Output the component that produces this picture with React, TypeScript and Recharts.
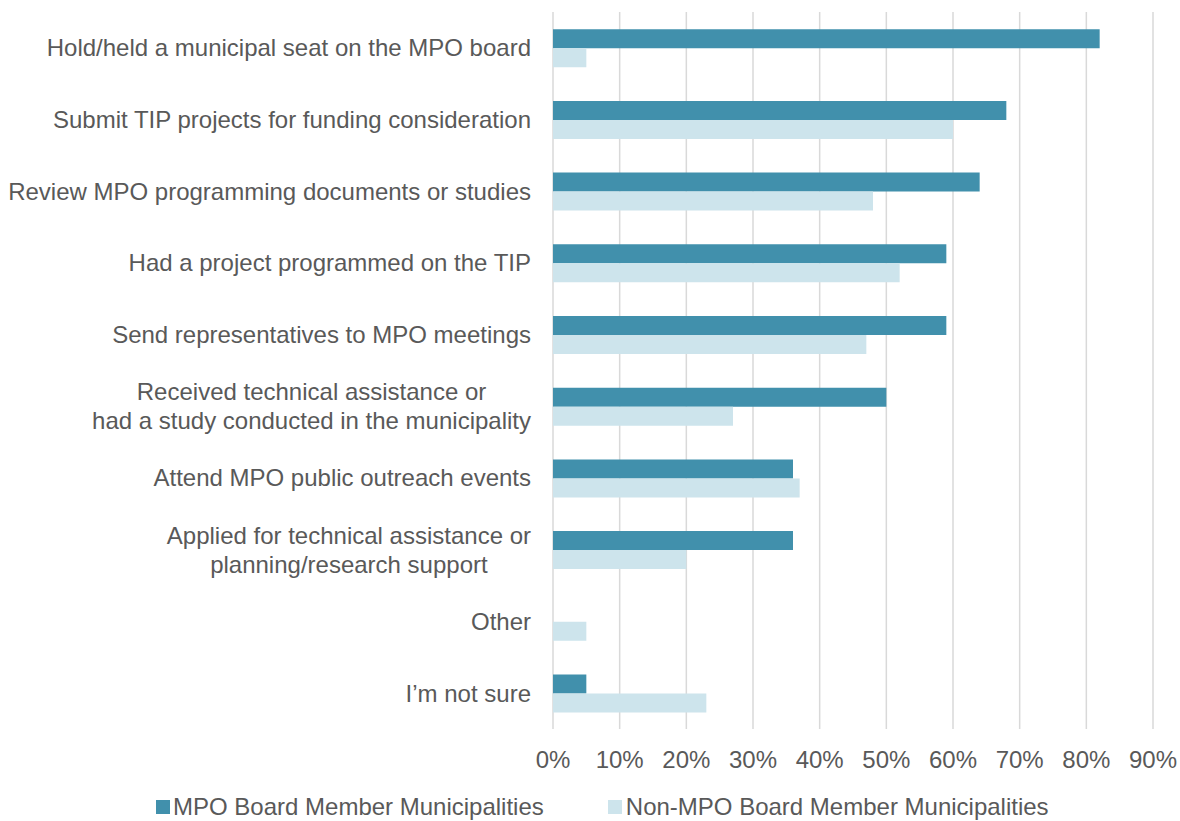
import React from "react";
import { BarChart, Bar, XAxis, YAxis, CartesianGrid, Legend } from "recharts";

const categories = [
  "Hold/held a municipal seat on the MPO board",
  "Submit TIP projects for funding consideration",
  "Review MPO programming documents or studies",
  "Had a project programmed on the TIP",
  "Send representatives to MPO meetings",
  "Received technical assistance or\nhad a study conducted in the municipality",
  "Attend MPO public outreach events",
  "Applied for technical assistance or\nplanning/research support",
  "Other",
  "I\u2019m not sure",
];

const mpoMembers = [82, 68, 64, 59, 59, 50, 36, 36, 0, 5];
const nonMpoMembers = [5, 60, 48, 52, 47, 27, 37, 20, 5, 23];

const xTicks = [0, 10, 20, 30, 40, 50, 60, 70, 80, 90];

const seriesNames = ["MPO Board Member Municipalities", "Non-MPO Board Member Municipalities"];
const DARK = "#4190AC";
const LIGHT = "#CDE4EC";
const TEXT = "#595959";
const FONT = '"Liberation Sans", Arial, sans-serif';
const FONT_SIZE = 24;

const data = categories.map((name, i) => ({
  name,
  mpo: mpoMembers[i],
  nonMpo: nonMpoMembers[i],
}));

let measureCtx: CanvasRenderingContext2D | null = null;
function measure(text: string): number {
  if (!measureCtx) {
    const c = document.createElement("canvas");
    measureCtx = c.getContext("2d");
  }
  if (!measureCtx) return text.length * FONT_SIZE * 0.5;
  measureCtx.font = `${FONT_SIZE}px "Liberation Sans", Arial, sans-serif`;
  return measureCtx.measureText(text).width;
}

const CategoryTick = (props: any) => {
  const { x, y, payload } = props;
  const lines: string[] = String(payload.value).split("\n");
  const lineH = 29;
  if (lines.length === 1) {
    return (
      <text x={x} y={y} dy="0.35em" textAnchor="end" fill={TEXT} fontSize={FONT_SIZE} fontFamily={FONT}>
        {lines[0]}
      </text>
    );
  }
  const maxW = Math.max(...lines.map(measure));
  const cx = x - maxW / 2;
  const startY = y - ((lines.length - 1) * lineH) / 2;
  return (
    <text textAnchor="middle" fill={TEXT} fontSize={FONT_SIZE} fontFamily={FONT}>
      {lines.map((l, i) => (
        <tspan key={i} x={cx} y={startY + i * lineH} dy="0.35em">
          {l}
        </tspan>
      ))}
    </text>
  );
};

const LegendContent = () => (
  <div
    style={{
      display: "flex",
      alignItems: "center",
      marginLeft: 156,
      fontFamily: FONT,
      fontSize: FONT_SIZE,
      lineHeight: "28px",
      color: TEXT,
      whiteSpace: "nowrap",
    }}
  >
    <div style={{ display: "flex", alignItems: "center" }}>
      <span style={{ display: "inline-block", width: 14, height: 14, background: DARK, marginRight: 3 }} />
      <span>{seriesNames[0]}</span>
    </div>
    <div style={{ display: "flex", alignItems: "center", marginLeft: 64 }}>
      <span style={{ display: "inline-block", width: 14, height: 14, background: LIGHT, marginRight: 4 }} />
      <span>{seriesNames[1]}</span>
    </div>
  </div>
);

export default function App() {
  return (
    <div style={{ position: "absolute", left: 0, top: 0, width: 1180, height: 821, background: "#fff" }}>
      <BarChart
        width={1180}
        height={821}
        data={data}
        layout="vertical"
        margin={{ top: 12, right: 27, bottom: 34, left: 0 }}
        barCategoryGap="24%"
        barGap={0}
      >
        <CartesianGrid horizontal={false} vertical={true} stroke="#D9D9D9" strokeWidth={1.5} />
        <XAxis
          type="number"
          domain={[0, 90]}
          ticks={xTicks}
          tickFormatter={(v: number) => `${v}%`}
          axisLine={false}
          tickLine={false}
          tickSize={0}
          tickMargin={22}
          interval={0}
          tick={{ fill: TEXT, fontSize: FONT_SIZE, fontFamily: FONT }}
        />
        <YAxis
          type="category"
          dataKey="name"
          width={553}
          axisLine={false}
          tickLine={false}
          tickSize={0}
          tickMargin={22}
          interval={0}
          tick={<CategoryTick />}
        />
        <Legend
          verticalAlign="bottom"
          content={<LegendContent />}
          wrapperStyle={{ left: 0, bottom: 0, width: 1180 }}
        />
        <Bar dataKey="mpo" name={seriesNames[0]} fill={DARK} isAnimationActive={false} />
        <Bar dataKey="nonMpo" name={seriesNames[1]} fill={LIGHT} isAnimationActive={false} />
      </BarChart>
    </div>
  );
}
